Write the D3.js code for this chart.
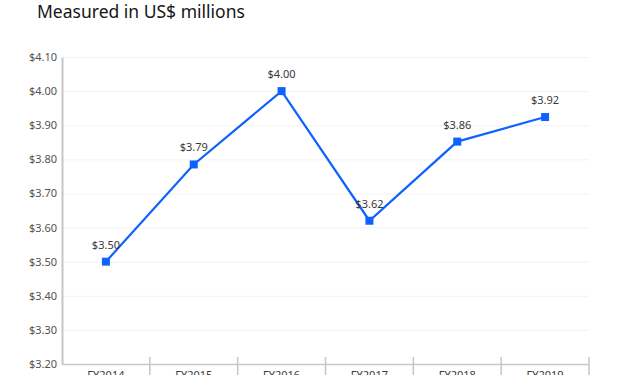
<!DOCTYPE html>
<html>
<head>
<meta charset="utf-8">
<script src="https://cdn.jsdelivr.net/npm/d3@7"></script>
<style>
  body { margin: 0; background: #fff; }
  svg { display: block; font-family: 'Noto Sans', sans-serif; }
  .grid line { stroke: #f2f2f2; stroke-width: 1; }
  .grid .domain { display: none; }
</style>
</head>
<body>
<div id="chart"></div>
<script>
// chart data
const years = ['FY2014', 'FY2015', 'FY2016', 'FY2017', 'FY2018', 'FY2019'];
const revenue = [3.50, 3.785, 4.00, 3.62, 3.852, 3.924];
const pointLabels = ['$3.50', '$3.79', '$4.00', '$3.62', '$3.86', '$3.92'];
const yTicks = [3.2, 3.3, 3.4, 3.5, 3.6, 3.7, 3.8, 3.9, 4.0, 4.1];
const title = 'Measured in US$ millions';

// set the dimensions and margins of the graph
const margin = { top: 57, right: 39, bottom: 11, left: 62 };
const totalW = 628, totalH = 375;
const width = totalW - margin.left - margin.right;
const height = totalH - margin.top - margin.bottom;

const x = d3.scaleBand().domain(years).range([0, width]);
const y = d3.scaleLinear().domain([3.2, 4.1]).range([height, 0]);

const svg = d3.select('#chart').append('svg')
  .attr('width', totalW)
  .attr('height', totalH);

svg.append('text')
  .attr('x', 37)
  .attr('y', 18)
  .attr('font-size', 17.5)
  .attr('fill', '#161616')
  .text(title);

const g = svg.append('g')
  .attr('transform', `translate(${margin.left}, ${margin.top})`);

// gridlines
g.append('g')
  .attr('class', 'grid')
  .call(d3.axisLeft(y).tickValues(yTicks).tickSize(-width).tickFormat(''));

// y axis
const yAxis = g.append('g')
  .call(d3.axisLeft(y).tickValues(yTicks).tickSize(0).tickPadding(5)
    .tickFormat(d => '$' + d3.format('.2f')(d)));
yAxis.select('.domain').attr('stroke', '#c6c6c6').attr('stroke-width', 2);
yAxis.selectAll('text').attr('font-size', 11).attr('fill', '#525252')
  .attr('font-family', "'Noto Sans', sans-serif");

// x axis with band boundary ticks
const xAxis = g.append('g')
  .attr('transform', `translate(0, ${height})`)
  .call(d3.axisBottom(x).tickSize(0).tickPadding(7));
xAxis.select('.domain').attr('stroke', '#c6c6c6').attr('stroke-width', 1.5);
xAxis.selectAll('text').attr('font-size', 11).attr('fill', '#393939')
  .attr('font-family', "'Noto Sans', sans-serif");

const bounds = years.map(d => x(d)).concat([x(years[years.length - 1]) + x.bandwidth()]);
xAxis.selectAll('line.sep')
  .data(bounds.slice(1))
  .enter().append('line')
  .attr('class', 'sep')
  .attr('x1', d => d).attr('x2', d => d)
  .attr('y1', -7).attr('y2', 12)
  .attr('stroke', '#c6c6c6')
  .attr('stroke-width', 1.5);

const cx = d => x(d) + x.bandwidth() / 2;

const valueLine = d3.line()
  .x((d, i) => cx(years[i]))
  .y(d => y(d));

g.append('path')
  .datum(revenue)
  .attr('fill', 'none')
  .attr('stroke', '#0f62fe')
  .attr('stroke-width', 2.2)
  .attr('d', valueLine);

g.selectAll('rect.pt')
  .data(revenue)
  .enter().append('rect')
  .attr('class', 'pt')
  .attr('x', (d, i) => cx(years[i]) - 4)
  .attr('y', d => y(d) - 4)
  .attr('width', 8)
  .attr('height', 8)
  .attr('fill', '#0f62fe');

g.selectAll('text.lbl')
  .data(revenue)
  .enter().append('text')
  .attr('class', 'lbl')
  .attr('x', (d, i) => cx(years[i]))
  .attr('y', d => y(d) - 13)
  .attr('text-anchor', 'middle')
  .attr('font-size', 11)
  .attr('fill', '#393939')
  .text((d, i) => pointLabels[i]);
</script>
</body>
</html>
